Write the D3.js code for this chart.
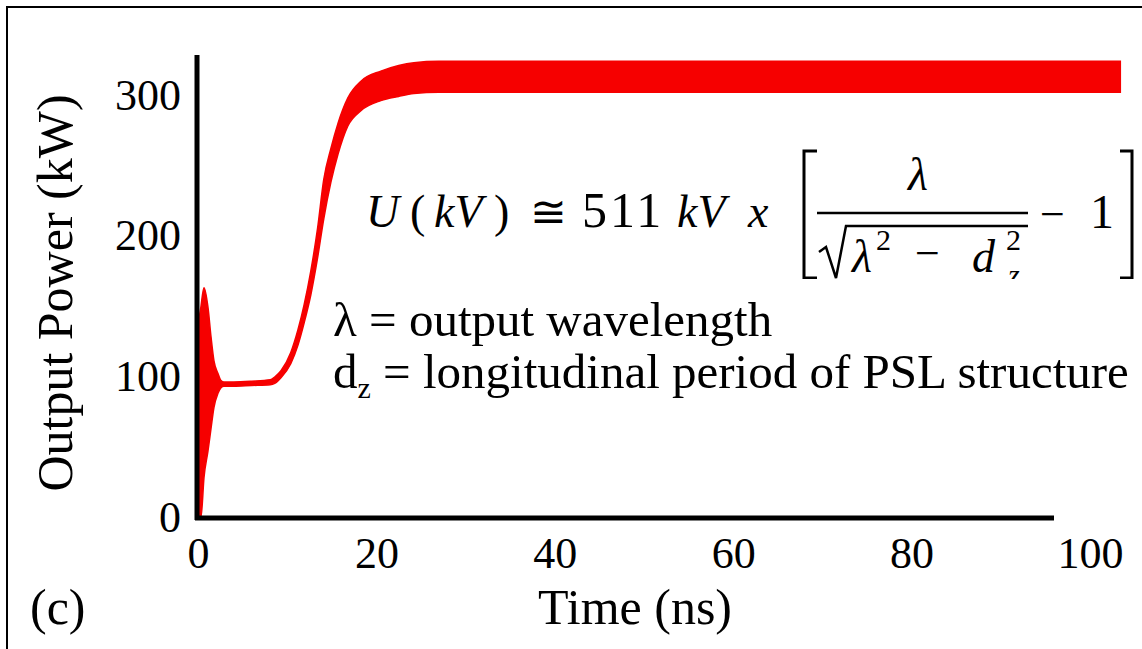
<!DOCTYPE html>
<html>
<head>
<meta charset="utf-8">
<script src="https://cdn.jsdelivr.net/npm/d3@7"></script>
<style>
  body { margin: 0; background: #fff; }
  svg text { font-family: "Liberation Serif", "Times New Roman", serif; }
</style>
</head>
<body>
<div id="chart"></div>
<script>
// output power envelope of the simulated pulse
var timeNs  = [0, 0.1, 0.34, 0.67, 1.12, 1.46, 1.79, 2.24, 2.58, 2.91, 4, 6, 8.1, 8.6, 9.3, 10.4, 11.2, 11.9, 12.65, 13.4, 14.1, 14.9, 15.7, 16.8, 18.3, 20.5, 22.5, 24.2, 27, 31, 40, 50, 60, 70, 80, 90, 100, 103.4];
var upperKW = [0, 138, 150, 163, 149, 128, 111, 102, 97, 96, 96, 96.5, 97.5, 99.5, 104, 117, 133, 151, 175, 205, 240, 262, 280, 298, 310, 317, 321, 323, 324, 324, 324, 324, 324, 324, 324, 324, 324, 324];
var lowerKW = [0, 0, 0, 28, 47, 63, 78, 88, 92, 93, 93, 93.5, 94, 95, 99, 109, 122, 138, 158, 184, 212, 238, 258, 278, 289, 296, 299, 301, 302, 302, 302, 302, 302, 302, 302, 302, 302, 302];

var xTicks = [0, 20, 40, 60, 80, 100];
var yTicks = [0, 100, 200, 300];

var W = 1142, H = 649;
var red = "#f60000";

var svg = d3.select("#chart").append("svg")
    .attr("width", W)
    .attr("height", H);

var x = d3.scaleLinear().domain([0, 100]).range([198, 1090]);
var y = d3.scaleLinear().domain([0, 300]).range([517, 95]);

// frame (only top and left edges show)
svg.append("path")
    .attr("d", "M7," + H + " L7,7 L" + W + ",7")
    .attr("fill", "none")
    .attr("stroke", "#000")
    .attr("stroke-width", 2);

// red band
var rows = timeNs.map(function (t, i) { return { t: t, hi: upperKW[i], lo: lowerKW[i] }; });
var area = d3.area()
    .curve(d3.curveMonotoneX)
    .x(function (d) { return x(d.t); })
    .y0(function (d) { return y(d.lo); })
    .y1(function (d) { return y(d.hi); });

svg.append("path")
    .datum(rows)
    .attr("d", area)
    .attr("fill", red)
    .attr("stroke", red)
    .attr("stroke-width", 1.5);

// axes lines
svg.append("line")
    .attr("x1", 197).attr("x2", 197)
    .attr("y1", 55).attr("y2", 520)
    .attr("stroke", "#000").attr("stroke-width", 5);
svg.append("line")
    .attr("x1", 195).attr("x2", 1054)
    .attr("y1", 518).attr("y2", 518)
    .attr("stroke", "#000").attr("stroke-width", 5);

// tick labels
var yAxis = svg.append("g")
    .attr("transform", "translate(197,0)")
    .call(d3.axisLeft(y).tickValues(yTicks).tickSize(0).tickPadding(16));
yAxis.select(".domain").remove();
yAxis.selectAll("text")
    .style("font-family", "'Liberation Serif', serif")
    .style("font-size", "44px")
    .attr("fill", "#000");

var xAxis = svg.append("g")
    .attr("transform", "translate(0,518)")
    .call(d3.axisBottom(x).tickValues(xTicks).tickSize(0).tickPadding(19));
xAxis.select(".domain").remove();
xAxis.selectAll("text")
    .style("font-family", "'Liberation Serif', serif")
    .style("font-size", "44px")
    .attr("fill", "#000");

// axis titles
svg.append("text")
    .attr("transform", "translate(72,293) rotate(-90)")
    .attr("text-anchor", "middle")
    .style("font-size", "50px")
    .text("Output Power (kW)");

svg.append("text")
    .attr("x", 635).attr("y", 624)
    .attr("text-anchor", "middle")
    .style("font-size", "50px")
    .text("Time (ns)");

svg.append("text")
    .attr("x", 30).attr("y", 624)
    .style("font-size", "50px")
    .text("(c)");

// formula
var clip = svg.append("clipPath").attr("id", "fclip");
clip.append("rect").attr("x", 340).attr("y", 140).attr("width", 800).attr("height", 139);
var f = svg.append("g").attr("clip-path", "url(#fclip)");

function ftext(str, px, py, size, italic) {
    return f.append("text")
        .attr("x", px).attr("y", py)
        .style("font-size", size + "px")
        .style("font-style", italic ? "italic" : "normal")
        .text(str);
}
ftext("U", 366, 227, 46, true);
ftext("(", 410, 227, 46, false);
ftext("kV", 434, 227, 46, true);
ftext(")", 494, 227, 46, false);
ftext("\u2245", 530, 227, 44, false).style("font-family", "'DejaVu Serif', serif");
ftext("511", 582, 227, 50, false).attr("letter-spacing", 3);
ftext("kV", 677, 227, 46, true);
ftext("x", 748, 227, 46, true);
ftext("\u03bb", 908, 190, 46, true);
ftext("\u03bb", 852, 272, 46, true);
ftext("2", 876, 250, 30, false);
ftext("\u2212", 915, 268, 44, false);
ftext("d", 972, 272, 46, true);
ftext("2", 1006, 250, 30, false);
ftext("z", 1008, 285, 30, true);
ftext("\u2212", 1040, 229, 44, false);
ftext("1", 1090, 228, 48, false);

// fraction bar, radical, brackets
f.append("line").attr("x1", 817).attr("x2", 1028).attr("y1", 213).attr("y2", 213)
    .attr("stroke", "#000").attr("stroke-width", 2.5);
f.append("path").attr("d", "M819,252 L826,247 L836,278 L846,226 L1028,226")
    .attr("fill", "none").attr("stroke", "#000").attr("stroke-width", 2.5);
f.append("path").attr("d", "M817,151 L804,151 L804,278 L817,278")
    .attr("fill", "none").attr("stroke", "#000").attr("stroke-width", 3);
f.append("path").attr("d", "M1120,151 L1132,151 L1132,278 L1120,278")
    .attr("fill", "none").attr("stroke", "#000").attr("stroke-width", 3);

// definitions
var l1 = svg.append("text").attr("x", 333).attr("y", 336).style("font-size", "49px");
l1.text("\u03bb = output wavelength");
var l2 = svg.append("text").attr("x", 333).attr("y", 388).style("font-size", "49px");
l2.append("tspan").text("d");
l2.append("tspan").attr("dy", 10).style("font-size", "30px").text("z");
l2.append("tspan").attr("dy", -10).text(" = longitudinal period of PSL structure");
</script>
</body>
</html>
